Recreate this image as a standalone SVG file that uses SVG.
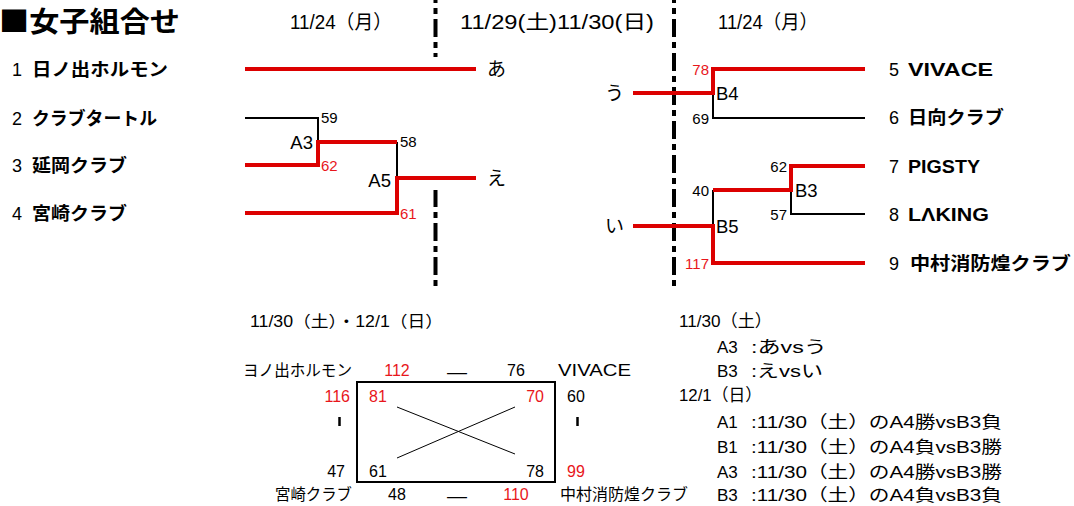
<svg xmlns="http://www.w3.org/2000/svg" width="1074" height="506" viewBox="0 0 1074 506">
<style>
text{font-family:"Liberation Sans","Noto Sans CJK JP",sans-serif;fill:#000}
.title{font-size:28px;font-weight:bold}
.sq{font-family:"Noto Sans CJK JP",sans-serif}
.hd{font-size:19.5px}
.num{font-size:18px}
.nm{font-size:18px;font-weight:bold}
.sc{font-size:15px}
.red{fill:#e8161b}
.lb{font-size:18.5px}
.kana{font-size:19px}
.bt{font-size:16px}
.rt{font-size:17px}
.dash{stroke:#000;stroke-width:4;stroke-dasharray:18 5 6 5;fill:none}
.rl{stroke:#dc0000;stroke-width:4;fill:none}
.bl{stroke:#000;stroke-width:2;fill:none}
</style>
<rect width="1074" height="506" fill="#fff"/>
<text class="title" x="-1" y="32" textLength="181" lengthAdjust="spacingAndGlyphs"><tspan class="sq">■</tspan>女子組合せ</text>
<g id="headers">
<text class="hd" x="290" y="29" textLength="102" lengthAdjust="spacingAndGlyphs">11/24（月）</text>
<text class="hd" x="460" y="29" textLength="194" lengthAdjust="spacingAndGlyphs">11/29(土)11/30(日)</text>
<text class="hd" x="718" y="29" textLength="100" lengthAdjust="spacingAndGlyphs">11/24（月）</text>
</g>
<g id="dividers">
<line class="dash" x1="435.5" y1="0" x2="435.5" y2="57" stroke-dashoffset="15"/>
<line class="dash" x1="435.5" y1="190" x2="435.5" y2="287" stroke-dashoffset="1"/>
<line class="dash" x1="674" y1="0" x2="674" y2="287" stroke-dashoffset="15"/>
</g>
<g id="connectors">
<path class="bl" d="M245 118H318V142M397 142V178"/>
<path class="bl" d="M713 93V118H865M713 190V226M791 190V214H865"/>
<path class="rl" d="M245 69H476M245 165H318V142H397M245 213H397V178H476"/>
<path class="rl" d="M633 93H713V69H865M633 226H713V263H865M713 190H791V166H865"/>
</g>
<g id="team1"><text class="num" x="12" y="75.5">1</text><text class="nm" x="32" y="75.5" textLength="136" lengthAdjust="spacingAndGlyphs">日ノ出ホルモン</text></g>
<g id="team2"><text class="num" x="12" y="124.5">2</text><text class="nm" x="32" y="124.5" textLength="125" lengthAdjust="spacingAndGlyphs">クラブタートル</text></g>
<g id="team3"><text class="num" x="12" y="171.5">3</text><text class="nm" x="32" y="171.5" textLength="95" lengthAdjust="spacingAndGlyphs">延岡クラブ</text></g>
<g id="team4"><text class="num" x="12" y="219.5">4</text><text class="nm" x="32" y="219.5" textLength="95" lengthAdjust="spacingAndGlyphs">宮崎クラブ</text></g>
<g id="team5"><text class="num" x="889" y="75.5">5</text><text class="nm" x="908" y="75.5" textLength="85" lengthAdjust="spacingAndGlyphs">VIVACE</text></g>
<g id="team6"><text class="num" x="889" y="123.5">6</text><text class="nm" x="908" y="123.5" textLength="96" lengthAdjust="spacingAndGlyphs">日向クラブ</text></g>
<g id="team7"><text class="num" x="889" y="172.5">7</text><text class="nm" x="908" y="172.5" textLength="72" lengthAdjust="spacingAndGlyphs">PIGSTY</text></g>
<g id="team8"><text class="num" x="889" y="220.5">8</text><text class="nm" x="908" y="220.5" textLength="81" lengthAdjust="spacingAndGlyphs">LΛKING</text></g>
<g id="team9"><text class="num" x="889" y="269.5">9</text><text class="nm" x="910" y="269.5" textLength="161" lengthAdjust="spacingAndGlyphs">中村消防煌クラブ</text></g>
<g id="A3"><text class="lb" x="313" y="149" text-anchor="end">A3</text><text class="sc" x="321" y="123">59</text><text class="sc red" x="321" y="170.5">62</text></g>
<g id="A5"><text class="lb" x="391" y="186.5" text-anchor="end">A5</text><text class="sc" x="400" y="147">58</text><text class="sc red" x="400" y="218.5">61</text></g>
<g id="B4"><text class="lb" x="716" y="99.5">B4</text><text class="sc red" x="709" y="74.5" text-anchor="end">78</text><text class="sc" x="709" y="123.5" text-anchor="end">69</text></g>
<g id="B3"><text class="lb" x="795" y="196.5">B3</text><text class="sc" x="787" y="171.5" text-anchor="end">62</text><text class="sc" x="787" y="219.5" text-anchor="end">57</text></g>
<g id="B5"><text class="lb" x="716" y="232.5">B5</text><text class="sc" x="709" y="195.5" text-anchor="end">40</text><text class="sc red" x="709" y="268.5" text-anchor="end">117</text></g>
<g id="slots">
<text class="kana" x="487" y="76">あ</text>
<text class="kana" x="487" y="185">え</text>
<text class="kana" x="605" y="100">う</text>
<text class="kana" x="605" y="233">い</text>
</g>
<g id="league">
<text class="bt" x="250" y="327" textLength="193" lengthAdjust="spacingAndGlyphs">11/30（土）・12/1（日）</text>
<rect x="357" y="382" width="198" height="100" fill="none" stroke="#000" stroke-width="2"/>
<line x1="397" y1="407" x2="515" y2="454" stroke="#000" stroke-width="1"/>
<line x1="397" y1="458" x2="515" y2="407" stroke="#000" stroke-width="1"/>
<text class="bt" x="243" y="376" textLength="109" lengthAdjust="spacingAndGlyphs">ヨノ出ホルモン</text>
<text class="bt red" x="397" y="376" text-anchor="middle">112</text>
<text class="bt" x="447" y="378" textLength="20" lengthAdjust="spacingAndGlyphs">—</text>
<text class="bt" x="516" y="376" text-anchor="middle">76</text>
<text class="bt" x="558" y="376" textLength="73" lengthAdjust="spacingAndGlyphs">VIVACE</text>
<text class="bt red" x="350" y="402" text-anchor="end">116</text>
<text class="bt red" x="369" y="402">81</text>
<text class="bt red" x="544" y="402" text-anchor="end">70</text>
<text class="bt" x="567" y="402">60</text>
<line x1="339.5" y1="417" x2="339.5" y2="426" stroke="#000" stroke-width="2.5"/>
<line x1="577.5" y1="417" x2="577.5" y2="426" stroke="#000" stroke-width="2.5"/>
<text class="bt" x="345" y="477" text-anchor="end">47</text>
<text class="bt" x="369" y="477">61</text>
<text class="bt" x="544" y="477" text-anchor="end">78</text>
<text class="bt red" x="567" y="477">99</text>
<text class="bt" x="275" y="500" textLength="77" lengthAdjust="spacingAndGlyphs">宮崎クラブ</text>
<text class="bt" x="397" y="500" text-anchor="middle">48</text>
<text class="bt" x="447" y="502" textLength="20" lengthAdjust="spacingAndGlyphs">—</text>
<text class="bt red" x="516" y="500" text-anchor="middle">110</text>
<text class="bt" x="560" y="500" textLength="128" lengthAdjust="spacingAndGlyphs">中村消防煌クラブ</text>
</g>
<g id="schedule">
<text class="rt" x="679" y="327" textLength="93" lengthAdjust="spacingAndGlyphs">11/30（土）</text>
<text class="rt" x="717" y="353">A3</text><text class="rt" x="751" y="353" textLength="76" lengthAdjust="spacingAndGlyphs">:あvsう</text>
<text class="rt" x="717" y="377">B3</text><text class="rt" x="751" y="377" textLength="72" lengthAdjust="spacingAndGlyphs">:えvsい</text>
<text class="rt" x="679" y="401" textLength="83" lengthAdjust="spacingAndGlyphs">12/1（日）</text>
<text class="rt" x="717" y="428">A1</text><text class="rt" x="751" y="428" textLength="251" lengthAdjust="spacingAndGlyphs">:11/30（土）のA4勝vsB3負</text>
<text class="rt" x="717" y="453">B1</text><text class="rt" x="751" y="453" textLength="251" lengthAdjust="spacingAndGlyphs">:11/30（土）のA4負vsB3勝</text>
<text class="rt" x="717" y="478">A3</text><text class="rt" x="751" y="478" textLength="251" lengthAdjust="spacingAndGlyphs">:11/30（土）のA4勝vsB3勝</text>
<text class="rt" x="717" y="501">B3</text><text class="rt" x="751" y="501" textLength="251" lengthAdjust="spacingAndGlyphs">:11/30（土）のA4負vsB3負</text>
</g>
</svg>
